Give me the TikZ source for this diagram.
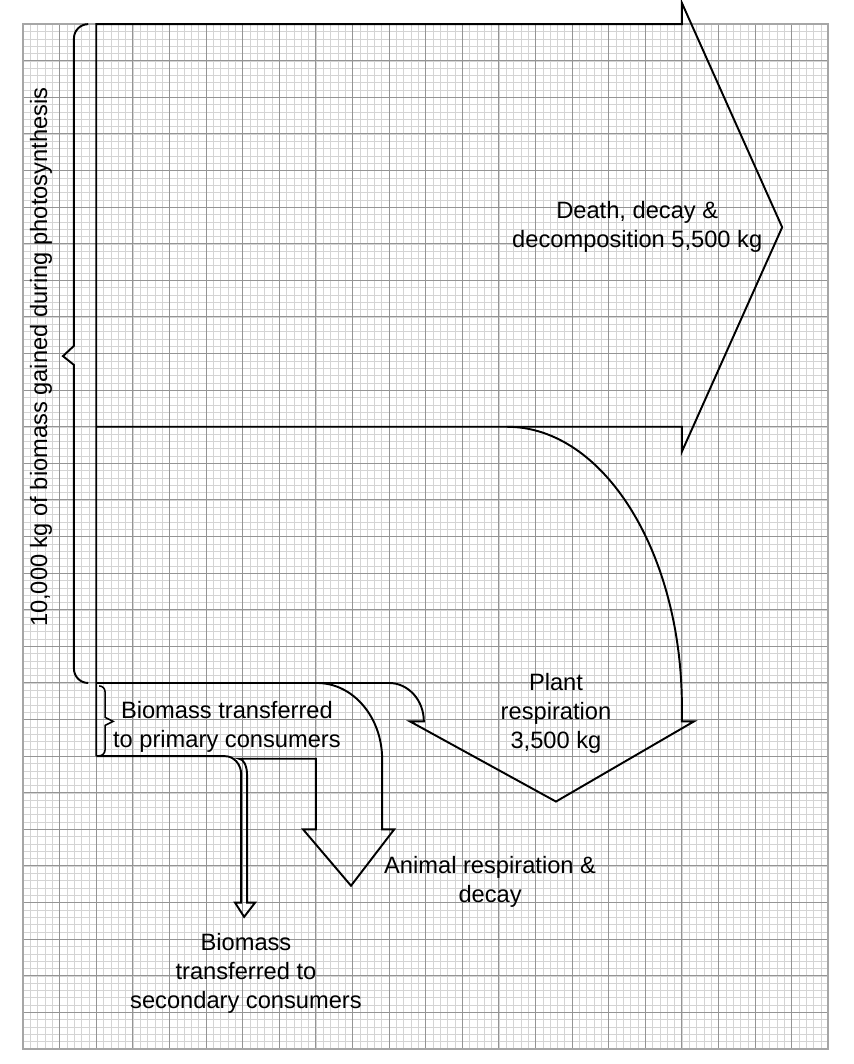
\documentclass[tikz,border=0pt]{standalone}
\usepackage{fontspec}
\setmainfont{Liberation Sans}
\begin{document}
\begin{tikzpicture}[
    minor/.style={line width=0.4pt, black!17},
    major/.style={line width=0.8pt, black!42},
    flow/.style={line width=1.5pt},
    lbl/.style={font=\fontsize{18.4}{22.6}\selectfont, align=center, inner sep=0pt}]
    \useasboundingbox (-0.63,-0.41) rectangle (22.70,28.66);
    \fill[white] (-0.63,-0.41) rectangle (22.70,28.66);
    % graph paper
    \draw[minor, step=0.2] (0,0) grid (22,28);
    \draw[major, step=1] (0,0) grid (22,28);
    \draw[line width=1.5pt, black!35] (0,0) rectangle (22,28);
    % total biomass and death arrow
    \draw[flow] (2,8) -- (2,28) -- (18,28) -- (18,28.58) -- (20.74,22.45) -- (18,16.32) -- (18,17) -- (2,17);
    \draw[flow] (2,10) -- (10,10);
    % plant respiration
    \draw[flow] (13.22,17) arc(90:0:4.78 and 7.66) -- (18,8.95) -- (18.33,8.95) -- (14.56,6.76) -- (10.57,8.95) -- (10.95,8.95) arc(0:90:0.95 and 1.05);
    % secondary consumers and animal respiration
    \draw[flow] (2,8) -- (5.52,8) arc(90:0:0.44 and 0.5) -- (5.96,4) -- (5.79,4) -- (6.04,3.61) -- (6.34,4) -- (6.12,4) -- (6.12,7.49) arc(0:90:0.22 and 0.44) -- (8,7.93) -- (8,6) -- (7.65,6) -- (8.96,4.46) -- (10.14,6) -- (9.81,6) -- (9.81,7.92) arc(0:90:1.78 and 2.08);
    % braces
    \draw[flow] (1.78,28) arc(90:180:0.39) -- (1.39,19.21) -- (1.09,18.93) -- (1.39,18.69) -- (1.39,10.39) arc(180:270:0.39);
    \draw[line width=1.2pt] (2.08,9.92) arc(90:0:0.16) -- (2.24,9.06) -- (2.46,8.95) -- (2.24,8.84) -- (2.24,8.17) arc(0:-90:0.16);
    % labels
    \node[lbl] (death) at (16.78,22.46) {Death, decay \&\\decomposition 5,500 kg};
    \node[lbl] (plant) at (14.56,9.17) {Plant\\respiration\\3,500 kg};
    \node[lbl] (primary) at (5.57,8.81) {Biomass transferred\\to primary consumers};
    \node[lbl] (animal) at (12.76,4.56) {Animal respiration \&\\decay};
    \node[lbl] (secondary) at (6.09,2.07) {Biomass\\transferred to\\secondary consumers};
    \node[lbl, rotate=90] (total) at (0.49,18.9) {10,000 kg of biomass gained during photosynthesis};
\end{tikzpicture}
\end{document}
